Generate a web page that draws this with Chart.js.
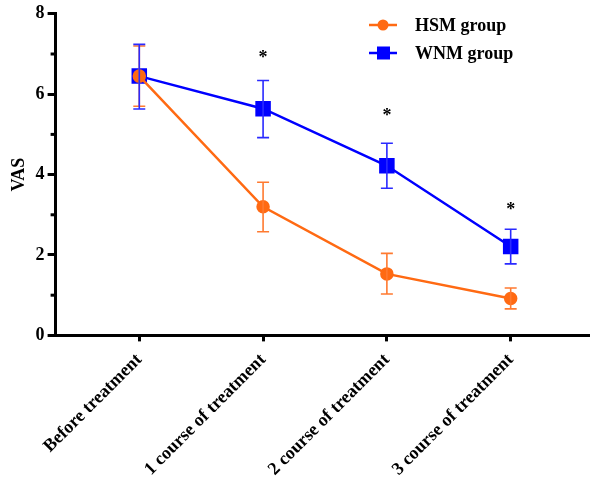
<!DOCTYPE html>
<html>
<head>
<meta charset="utf-8">
<script src="https://cdn.jsdelivr.net/npm/chart.js@4"></script>
<style>
  body { margin: 0; background: #fff; }
  #wrap { width: 600px; height: 484px; }
</style>
</head>
<body>
<div id="wrap"><canvas id="c"></canvas></div>
<script>
// data
const categories = ["Before treatment", "1 course of treatment", "2 course of treatment", "3 course of treatment"];
const hsmMean = [6.45, 3.2, 1.53, 0.92];
const hsmLow = [5.7, 2.58, 1.03, 0.66];
const hsmHigh = [7.2, 3.81, 2.04, 1.18];
const wnmMean = [6.45, 5.64, 4.22, 2.21];
const wnmLow = [5.63, 4.92, 3.66, 1.78];
const wnmHigh = [7.24, 6.34, 4.78, 2.64];
const starAt = [null, 7.0, 5.55, 3.22];
const yTicks = [0, 2, 4, 6, 8];
const yMinor = [1, 3, 5, 7];

const ORANGE = "#ff6a13";
const BLUE = "#0000ff";
const FONT = "'Liberation Serif', 'Times New Roman', serif";

// error bars, minor ticks, asterisks and the in-plot legend
const extras = {
  id: "extras",
  afterDatasetsDraw(chart) {
    const { ctx, scales: { x, y } } = chart;
    const errs = [[hsmLow, hsmHigh, "#ff7a30"], [wnmLow, wnmHigh, "#2a2aff"]];
    ctx.save();
    errs.forEach(([lo, hi, col]) => {
      ctx.strokeStyle = col;
      ctx.lineWidth = 1.6;
      lo.forEach((v, i) => {
        const px = x.getPixelForValue(i);
        const y1 = y.getPixelForValue(v), y2 = y.getPixelForValue(hi[i]);
        ctx.beginPath();
        ctx.moveTo(px, y1); ctx.lineTo(px, y2);
        ctx.moveTo(px - 6, y1); ctx.lineTo(px + 6, y1);
        ctx.moveTo(px - 6, y2); ctx.lineTo(px + 6, y2);
        ctx.stroke();
      });
    });
    ctx.strokeStyle = "#000";
    ctx.lineWidth = 3;
    yMinor.forEach(v => {
      const py = y.getPixelForValue(v);
      ctx.beginPath(); ctx.moveTo(x.left - 5, py); ctx.lineTo(x.left, py); ctx.stroke();
    });
    ctx.fillStyle = "#000";
    ctx.font = "bold 18px " + FONT;
    ctx.textAlign = "center";
    ctx.textBaseline = "middle";
    starAt.forEach((v, i) => {
      if (v == null) return;
      ctx.fillText("*", x.getPixelForValue(i), y.getPixelForValue(v) + 4);
    });
    // legend
    chart.data.datasets.forEach((ds, k) => {
      const ly = 25 + k * 28;
      ctx.strokeStyle = ds.borderColor;
      ctx.lineWidth = 2.5;
      ctx.beginPath(); ctx.moveTo(369, ly); ctx.lineTo(397, ly); ctx.stroke();
      ctx.fillStyle = ds.borderColor;
      if (ds.pointStyle === "rect") ctx.fillRect(377, ly - 6.5, 13, 13);
      else { ctx.beginPath(); ctx.arc(383, ly, 5.5, 0, Math.PI * 2); ctx.fill(); }
      ctx.fillStyle = "#000";
      ctx.font = "bold 18px " + FONT;
      ctx.textAlign = "left";
      ctx.fillText(ds.label, 415, ly + 1);
    });
    ctx.restore();
  }
};

new Chart(document.getElementById("c"), {
  type: "line",
  data: {
    datasets: [
      {
        label: "HSM group",
        data: hsmMean.map((v, i) => ({ x: i, y: v })),
        borderColor: ORANGE,
        backgroundColor: ORANGE,
        borderWidth: 2.5,
        pointStyle: "circle",
        pointRadius: 5.5,
        order: 1
      },
      {
        label: "WNM group",
        data: wnmMean.map((v, i) => ({ x: i, y: v })),
        borderColor: BLUE,
        backgroundColor: BLUE,
        borderWidth: 2.5,
        pointStyle: "rect",
        pointRadius: 9.2,
        order: 2
      }
    ]
  },
  options: {
    responsive: true,
    maintainAspectRatio: false,
    animation: false,
    layout: { padding: { top: 4, right: 10, left: 7, bottom: -4 } },
    plugins: { legend: { display: false }, tooltip: { enabled: false } },
    scales: {
      x: {
        type: "linear",
        min: -0.676,
        max: 3.627,
        afterBuildTicks: (s) => { s.ticks = categories.map((c, i) => ({ value: i })); },
        ticks: {
          callback: (v) => categories[v],
          minRotation: 45,
          maxRotation: 45,
          color: "#000",
          font: { family: FONT, size: 18, weight: "bold" },
          padding: 8
        },
        grid: { drawOnChartArea: false, drawTicks: true, tickLength: 6, color: "#000", lineWidth: 3 },
        border: { color: "#000", width: 3 }
      },
      y: {
        min: 0,
        max: 8,
        afterBuildTicks: (s) => { s.ticks = yTicks.map(v => ({ value: v })); },
        ticks: {
          callback: (v) => String(v),
          color: "#000",
          font: { family: FONT, size: 18, weight: "bold" },
          padding: 3
        },
        grid: { drawOnChartArea: false, drawTicks: true, tickLength: 8, color: "#000", lineWidth: 3 },
        border: { color: "#000", width: 3 },
        title: {
          display: true,
          text: "VAS",
          color: "#000",
          font: { family: FONT, size: 18, weight: "bold" },
          padding: 2
        }
      }
    }
  },
  plugins: [extras]
});
</script>
</body>
</html>
